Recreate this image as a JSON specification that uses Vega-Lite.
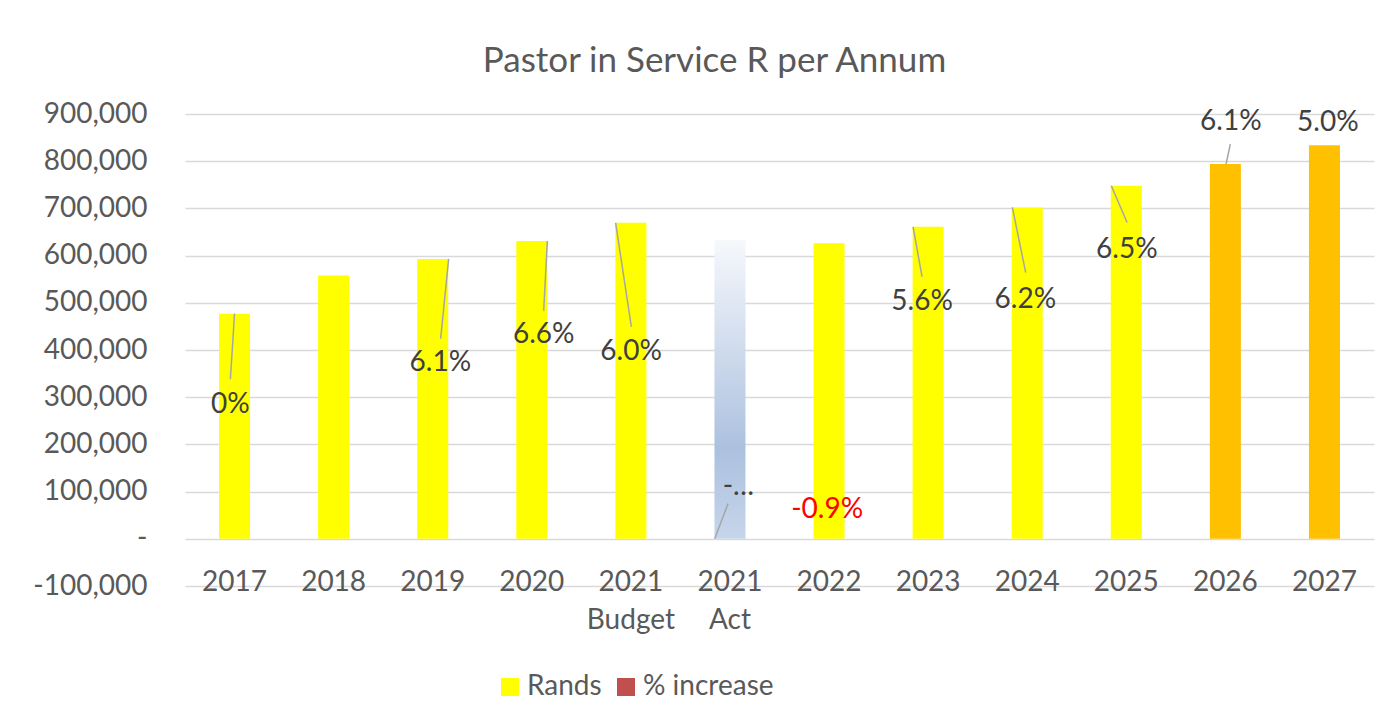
{
  "$schema": "https://vega.github.io/schema/vega-lite/v6.json",
  "width": 1189,
  "height": 472,
  "autosize": "none",
  "padding": {"left": 185, "top": 114, "right": 20, "bottom": 130},
  "background": "white",
  "config": {
    "font": "Lato",
    "view": {"stroke": null}
  },
  "title": {
    "text": "Pastor in Service R per Annum",
    "font": "Lato",
    "fontSize": 35,
    "fontWeight": "normal",
    "color": "#595959",
    "anchor": "middle",
    "frame": "group",
    "dx": -65,
    "dy": 13,
    "baseline": "alphabetic",
    "offset": 6
  },
  "datasets": {
    "bars": [
      {"cat": "2017", "series": "Rands", "value": 477000},
      {"cat": "2018", "series": "Rands", "value": 558000},
      {"cat": "2019", "series": "Rands", "value": 593000},
      {"cat": "2020", "series": "Rands", "value": 631000},
      {"cat": "2021 Budget", "series": "Rands", "value": 669500},
      {"cat": "2021 Act", "series": "Rands", "value": 633000},
      {"cat": "2022", "series": "Rands", "value": 626000},
      {"cat": "2023", "series": "Rands", "value": 661000},
      {"cat": "2024", "series": "Rands", "value": 702000},
      {"cat": "2025", "series": "Rands", "value": 748000},
      {"cat": "2026", "series": "Rands", "value": 794000},
      {"cat": "2027", "series": "Rands", "value": 834000}
    ],
    "labels": [
      {"cat": "2017", "label": "0%", "pct": 0, "lx": -0.042, "ly": 283000, "x1": 0.0, "y1": 477000, "x2": -0.042, "y2": 338000},
      {"cat": "2019", "label": "6.1%", "pct": 0.061, "lx": 2.077, "ly": 372000, "x1": 2.161, "y1": 593000, "x2": 2.08, "y2": 424000},
      {"cat": "2020", "label": "6.6%", "pct": 0.066, "lx": 3.12, "ly": 431000, "x1": 3.157, "y1": 631000, "x2": 3.12, "y2": 483000},
      {"cat": "2021 Budget", "label": "6.0%", "pct": 0.06, "lx": 4.002, "ly": 395000, "x1": 3.846, "y1": 669500, "x2": 4.005, "y2": 449000},
      {"cat": "2021 Act", "label": "-…", "pct": null, "lx": 5.085, "ly": 110000, "x1": 4.846, "y1": 0, "x2": 4.981, "y2": 75000},
      {"cat": "2022", "label": "-0.9%", "pct": -0.009, "lx": 5.981, "ly": 61000, "x1": null, "y1": null, "x2": null, "y2": null},
      {"cat": "2023", "label": "5.6%", "pct": 0.056, "lx": 6.939, "ly": 502000, "x1": 6.848, "y1": 661000, "x2": 6.939, "y2": 555000},
      {"cat": "2024", "label": "6.2%", "pct": 0.062, "lx": 7.981, "ly": 506000, "x1": 7.85, "y1": 702000, "x2": 7.985, "y2": 564000},
      {"cat": "2025", "label": "6.5%", "pct": 0.065, "lx": 9.006, "ly": 612000, "x1": 8.849, "y1": 748000, "x2": 9.008, "y2": 670000},
      {"cat": "2026", "label": "6.1%", "pct": 0.061, "lx": 10.055, "ly": 884000, "x1": 10.007, "y1": 794000, "x2": 10.05, "y2": 836000},
      {"cat": "2027", "label": "5.0%", "pct": 0.05, "lx": 11.034, "ly": 880000, "x1": null, "y1": null, "x2": null, "y2": null}
    ]
  },
  "layer": [
    {
      "data": {"name": "bars"},
      "mark": {"type": "bar"},
      "encoding": {
        "x": {
          "field": "cat",
          "type": "nominal",
          "scale": {
            "domain": ["2017", "2018", "2019", "2020", "2021 Budget", "2021 Act", "2022", "2023", "2024", "2025", "2026", "2027"],
            "paddingInner": 0.687,
            "paddingOuter": 0.3435
          },
          "axis": {
            "title": null,
            "domain": false,
            "ticks": false,
            "grid": false,
            "labelAngle": 0,
            "labelExpr": "split(datum.label, ' ')",
            "labelFont": "Lato",
            "labelFontSize": 28,
            "labelColor": "#595959",
            "labelBaseline": "alphabetic",
            "labelPadding": 4,
            "labelLineHeight": 38
          }
        },
        "y": {
          "field": "value",
          "type": "quantitative",
          "title": null,
          "scale": {"domain": [-100000, 900000], "nice": false, "zero": false},
          "axis": {
            "title": null,
            "domain": false,
            "ticks": false,
            "values": [-100000, 0, 100000, 200000, 300000, 400000, 500000, 600000, 700000, 800000, 900000],
            "labelExpr": "datum.value == 0 ? '-' : (datum.value < 0 ? '-' + format(-datum.value, ',') : format(datum.value, ','))",
            "labelFont": "Lato",
            "labelFontSize": 28,
            "labelColor": "#595959",
            "labelPadding": 38,
            "gridColor": "#D9D9D9",
            "gridWidth": 1.5
          }
        },
        "color": {
          "field": "series",
          "type": "nominal",
          "scale": {"domain": ["Rands", "% increase"], "range": ["#FFFF00", "#C0504D"]},
          "legend": {
            "title": null,
            "orient": "none",
            "legendX": 311,
            "legendY": 559,
            "direction": "horizontal",
            "symbolType": "square",
            "symbolSize": 324,
            "symbolStrokeWidth": 0,
            "labelFont": "Lato",
            "labelFontSize": 28,
            "labelColor": "#595959",
            "labelOffset": 3,
            "columnPadding": 10
          },
          "condition": [
            {
              "test": "datum.cat === '2021 Act'",
              "value": {
                "gradient": "linear",
                "x1": 0, "y1": 0, "x2": 0, "y2": 1,
                "stops": [
                  {"offset": 0, "color": "#F6F8FC"},
                  {"offset": 0.7, "color": "#ACC1DF"},
                  {"offset": 1, "color": "#C6D5EA"}
                ]
              }
            },
            {"test": "datum.cat === '2026' || datum.cat === '2027'", "value": "#FFC000"}
          ]
        }
      }
    },
    {
      "data": {"name": "labels"},
      "layer": [
        {
          "transform": [{"filter": "isValid(datum.x1)"}],
          "mark": {"type": "rule", "color": "#A6A6A6", "strokeWidth": 1.5},
          "encoding": {
            "x": {"field": "x1", "type": "quantitative", "scale": {"domain": [-0.5, 11.5], "nice": false, "zero": false}, "axis": null},
            "x2": {"field": "x2"},
            "y": {"field": "y1", "type": "quantitative", "title": null},
            "y2": {"field": "y2"}
          }
        },
        {
          "mark": {"type": "text", "font": "Lato", "fontSize": 28, "align": "center", "baseline": "middle"},
          "encoding": {
            "x": {"field": "lx", "type": "quantitative", "axis": null},
            "y": {"field": "ly", "type": "quantitative", "title": null},
            "text": {"field": "label"},
            "color": {
              "condition": {"test": "datum.pct < 0", "value": "#FF0000"},
              "value": "#404040"
            }
          }
        }
      ]
    }
  ],
  "resolve": {"scale": {"x": "independent"}}
}
